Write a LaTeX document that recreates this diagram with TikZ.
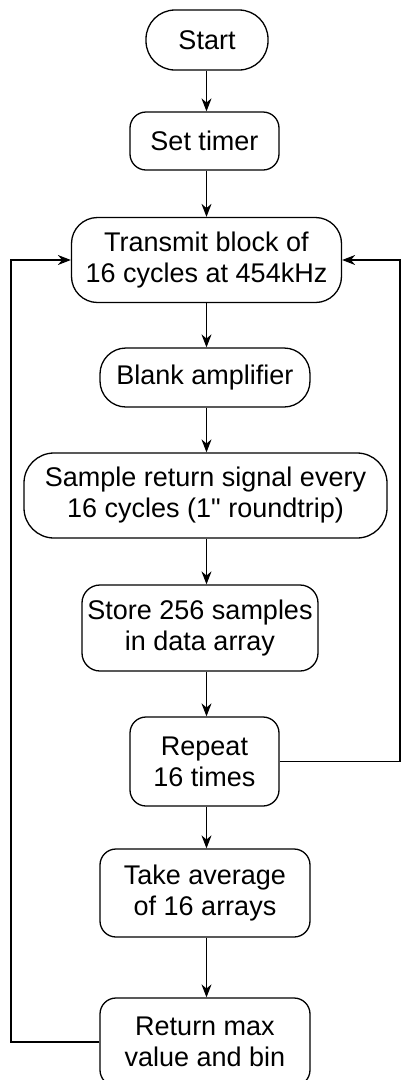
\documentclass[tikz,border=0pt]{standalone}
\usepackage{fontspec}
\newfontfamily\boxfont{Liberation Sans}
\usetikzlibrary{arrows.meta}

\begin{document}
\begin{tikzpicture}[x=1pt,y=1pt,yscale=-1,xscale=1,
        box/.style={draw, line width=1.3pt, rounded corners=#1, align=center, inner sep=0pt, font=\boxfont\fontsize{27}{31}\selectfont},
        box/.default=16pt,
        flow/.style={line width=1.3pt, -{Stealth[length=13pt,width=10pt]}}
        ]
        \useasboundingbox (0,0) rectangle (401,1080);
        
        %Shapes: steps of the flow
        \node [box=29pt, minimum width=122pt, minimum height=60pt] (start) at (207,40) {Start};
        \node [box, minimum width=149pt, minimum height=58pt] (timer) at (204.5,141) {Set timer};
        \node [box=26pt, minimum width=270pt, minimum height=85pt] (transmit) at (206.5,260) {Transmit block of\\16 cycles at 454kHz};
        \node [box=26pt, minimum width=210pt, minimum height=59pt] (blank) at (205,377.5) {Blank amplifier};
        \node [box=30pt, minimum width=363pt, minimum height=85pt] (sample) at (205.5,495.5) {Sample return signal every\\16 cycles (1" roundtrip)};
        \node [box=18pt, minimum width=236pt, minimum height=86pt] (store) at (200,628) {Store 256 samples\\in data array};
        \node [box, minimum width=149pt, minimum height=89pt] (repeat) at (204.5,761.5) {Repeat\\16 times};
        \node [box, minimum width=210pt, minimum height=88pt] (average) at (205,893) {Take average\\of 16 arrays};
        \node [box, minimum width=210pt, minimum height=88pt] (result) at (205,1042) {Return max\\value and bin};
        
        %Coordinates for the connectors
        \coordinate (spine) at (206.5,0);
        \coordinate (lft) at (11,0);
        \coordinate (rgt) at (400,0);
        
        %Straight Lines: down the flow
        \foreach \a/\b in {start/timer, timer/transmit, transmit/blank, blank/sample, sample/store, store/repeat, repeat/average, average/result}
        \draw [flow] (\a.south -| spine) -- (\b.north -| spine);
        
        %Straight Lines: loops back
        \draw [flow] (result.west) -- (result.west -| lft) |- (transmit.west);
        \draw [flow] (repeat.east) -- (repeat.east -| rgt) |- (transmit.east);
        
        \end{tikzpicture}
\end{document}
